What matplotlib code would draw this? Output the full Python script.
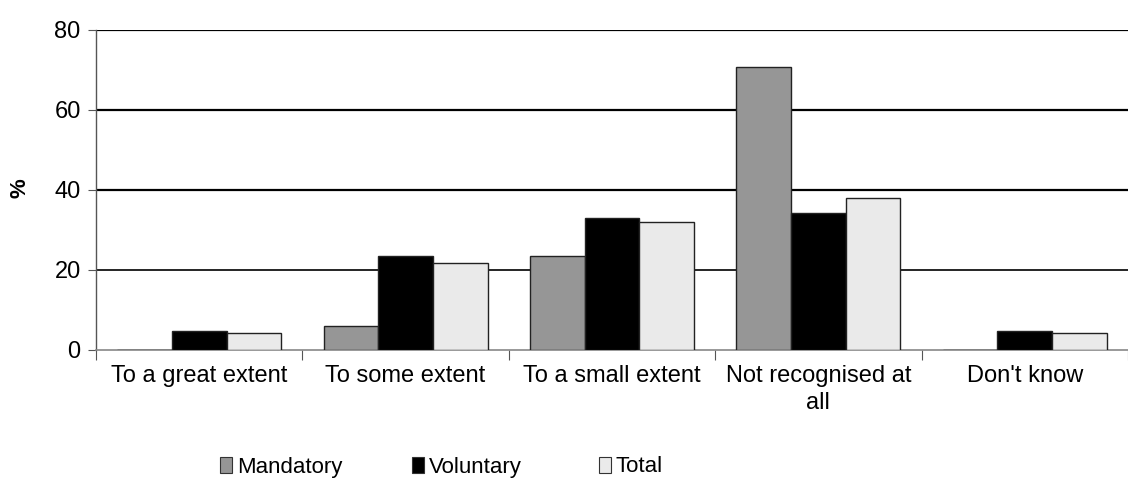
import numpy as np
import matplotlib.pyplot as plt
from matplotlib.patches import Patch

categories = ["To a great extent", "To some extent", "To a small extent",
              "Not recognised at\nall", "Don't know"]
mandatory = [0, 5.9, 23.5, 70.7, 0]
voluntary = [4.7, 23.6, 33.0, 34.3, 4.7]
total = [4.2, 21.7, 32.0, 38.0, 4.2]

series = ["Mandatory", "Voluntary", "Total"]
colors = ["#969696", "#000000", "#eaeaea"]

plt.rcParams['font.family'] = ['Liberation Sans', 'DejaVu Sans']

fig = plt.figure(figsize=(11.28, 4.78), dpi=100)
ax = fig.add_axes([96 / 1128, 1 - 350 / 478, 1 - 96 / 1128, 320 / 478])

x = np.arange(len(categories)) + 0.5
w = 0.265
for i, vals in enumerate([mandatory, voluntary, total]):
    ax.bar(x + (i - 1) * w, vals, w, color=colors[i], edgecolor="#222222",
           linewidth=1.0, zorder=3, label=series[i])

ax.set_ylim(0, 80)
ax.set_xlim(0, (1128 - 96) / 208.2)
ax.set_yticks([0, 20, 40, 60, 80])
for v in [20, 40, 60, 80]:
    ax.axhline(v, color="black", lw=1.6 if v > 20 else 1.2, zorder=1)

for s in ["top", "right"]:
    ax.spines[s].set_visible(False)
ax.spines["left"].set_color("#555555")
ax.spines["bottom"].set_color("#888888")
ax.spines["left"].set_linewidth(1.0)
ax.spines["bottom"].set_linewidth(1.2)

ax.set_xticks(np.arange(len(categories) + 1))
ax.set_xticklabels([])
ax.set_xticks(x, minor=True)
ax.set_xticklabels(categories, minor=True, fontsize=17, linespacing=1.3)
ax.tick_params(axis="x", which="major", length=7, color="#555555", direction="out")
ax.tick_params(axis="x", which="minor", length=0, pad=11)
ax.tick_params(axis="y", length=6, color="#555555", labelsize=17, pad=5)

fig.text(20 / 1128, 1 - 188 / 478, "%", rotation=90, fontsize=16,
         fontweight="bold", ha="center", va="center")

# legend entries placed one by one, like the spread-out original
handle_x = [220, 412, 599]
for c, name, hx in zip(colors, series, handle_x):
    h = Patch(facecolor=c, edgecolor="#333333", linewidth=0.8)
    fig.legend([h], [name], loc="center left",
               bbox_to_anchor=(hx / 1128, 1 - 467 / 478),
               frameon=False, borderpad=0, borderaxespad=0,
               handlelength=0.55, handleheight=0.75, handletextpad=0.2,
               prop={"size": 16})

fig.savefig("out.png", dpi=100)
